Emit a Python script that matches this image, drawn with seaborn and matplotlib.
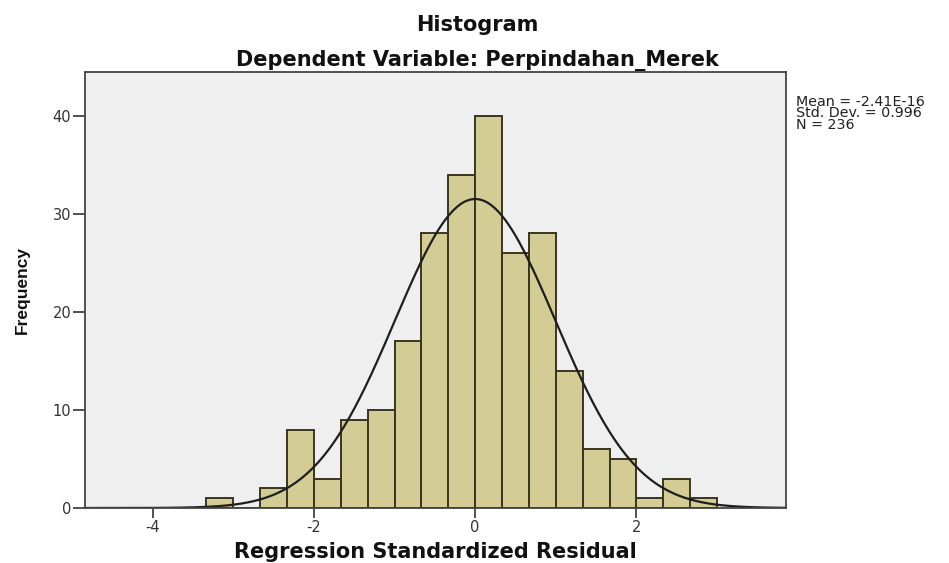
import numpy as np
import pandas as pd
import matplotlib
matplotlib.use("Agg")
import matplotlib.pyplot as plt
import seaborn as sns

bin_left = [-10/3, -3, -8/3, -7/3, -2, -5/3, -4/3, -1, -2/3, -1/3,
            0, 1/3, 2/3, 1, 4/3, 5/3, 2, 7/3, 8/3]
counts = [1, 0, 2, 8, 3, 9, 10, 17, 28, 34, 40, 26, 28, 14, 6, 5, 1, 3, 1]
bin_width = 1/3

# summary stats printed next to the chart
mean_val = -2.41e-16
std_val = 0.996
n_obs = 236
stats_label = "Mean = -2.41E-16\nStd. Dev. = 0.996\nN = 236"

df = pd.DataFrame({"resid": np.array(bin_left) + bin_width / 2, "count": counts})
edges = list(bin_left) + [bin_left[-1] + bin_width]

sns.set_style("white")
plt.rcParams["font.family"] = ["DejaVu Sans"]
plt.rcParams["axes.unicode_minus"] = False

fig = plt.figure(figsize=(9.49, 5.63), dpi=100)
ax = fig.add_axes([0.0896, 0.0977, 0.739, 0.775])
ax.set_facecolor("#EFEFEF")

sns.histplot(data=df, x="resid", weights="count", bins=edges, ax=ax,
             color="#D3CC94", edgecolor="#3A3520", linewidth=1.4, alpha=1)

# fitted normal curve (N * bin width * pdf)
xs = np.linspace(-4.85, 3.9, 400)
ys = n_obs * bin_width * np.exp(-0.5 * ((xs - mean_val) / std_val) ** 2) / (std_val * np.sqrt(2 * np.pi))
sns.lineplot(x=xs, y=ys, ax=ax, color="#1E1E1E", linewidth=1.6)

ax.set_xlim(-4.84, 3.86)
ax.set_ylim(0, 44.5)
ax.set_xticks([-4, -2, 0, 2])
ax.set_xticklabels(["-4", "-2", "0", "2"])
ax.set_yticks([0, 10, 20, 30, 40])
ax.tick_params(axis="x", direction="out", length=7, width=1.2, color="#333333",
               labelsize=10.5, labelcolor="#333333", bottom=True, pad=2)
ax.tick_params(axis="y", direction="out", length=9, width=1.2, color="#333333",
               labelsize=10.5, labelcolor="#333333", left=True, pad=1)
for side in ["top", "right", "left", "bottom"]:
    ax.spines[side].set_color("#444444")
    ax.spines[side].set_linewidth(1.3)

ax.set_xlabel("Regression Standardized Residual", fontsize=15, fontweight="bold",
              labelpad=5, color="#111111")
ax.set_ylabel("Frequency", fontsize=12.5, fontweight="bold", color="#111111",
              family=["Liberation Sans Narrow", "Liberation Sans"], labelpad=16)

fig.text(0.503, 0.955, "Histogram", ha="center", va="center",
         fontsize=15, fontweight="bold", color="#111111")
fig.text(0.503, 0.893, "Dependent Variable: Perpindahan_Merek", ha="center",
         va="center", fontsize=15, fontweight="bold", color="#111111")

fig.text(0.839, 0.832, stats_label, ha="left", va="top", fontsize=10.3,
         linespacing=0.8, color="#222222")

fig.savefig("out.png", dpi=100, facecolor="white")
